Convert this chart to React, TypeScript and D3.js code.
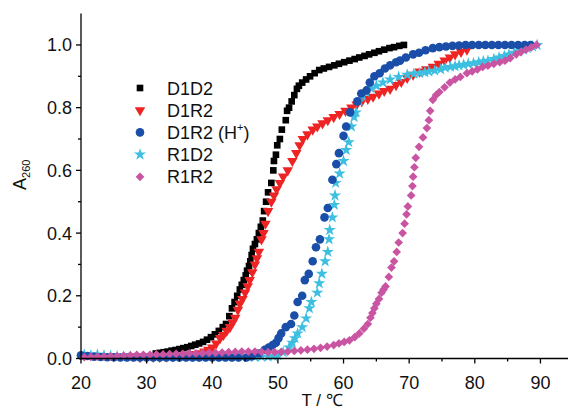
import React from "react";
import * as d3 from "d3";

const xTicks = [20, 30, 40, 50, 60, 70, 80, 90];
const yTicks = [0, 0.2, 0.4, 0.6, 0.8, 1.0];

const d1d2: [number, number][] = [
  [31.4,0.016],[32,0.018],[32.6,0.02],[33.2,0.022],[33.8,0.025],[34.4,0.027],[35,0.03],[35.6,0.033],[36.2,0.036],[36.8,0.04],
  [37.4,0.044],[38,0.048],[38.6,0.053],[39.2,0.06],[39.8,0.068],[40.4,0.077],[41,0.088],[41.6,0.1],[42.1,0.11],[42.6,0.135],
  [43,0.16],[43.4,0.18],[43.8,0.2],[44.2,0.22],[44.5,0.235],[44.8,0.25],[45.1,0.265],[45.3,0.28],[45.6,0.295],[45.8,0.31],
  [46,0.33],[46.2,0.35],[46.5,0.365],[46.8,0.38],[47.1,0.4],[47.4,0.42],[47.7,0.44],[47.9,0.47],[48.2,0.5],[48.5,0.53],
  [49,0.56],[49.3,0.6],[49.4,0.63],[49.7,0.65],[49.9,0.68],[50.3,0.7],[50.6,0.73],[51.2,0.76],[51.4,0.79],[51.7,0.8],
  [52.1,0.82],[52.5,0.84],[52.9,0.86],[53.2,0.87],[53.7,0.88],[54.3,0.89],[54.9,0.9],[55.6,0.91],[56.3,0.92],[57,0.925],
  [57.8,0.93],[58.6,0.935],[59.3,0.94],[60.1,0.945],[60.9,0.95],[61.7,0.955],[62.4,0.96],[63.2,0.965],[63.9,0.97],[64.7,0.975],
  [65.4,0.98],[66.2,0.985],[67,0.99],[67.7,0.993],[68.5,0.997],[69.2,1.0]
];

const d1r2: [number, number][] = [
  [29,0.004],[30,0.004],[31,0.005],[32,0.005],[33,0.006],[34,0.007],[35,0.008],[36,0.01],[36.8,0.012],[37.5,0.014],
  [38.1,0.017],[38.8,0.022],[39.4,0.028],[40,0.035],[40.6,0.048],[41.2,0.065],[41.7,0.075],[42.2,0.088],[42.7,0.1],[43.1,0.115],
  [43.5,0.13],[43.9,0.155],[44.2,0.175],[44.6,0.19],[45,0.21],[45.4,0.23],[45.7,0.25],[46.1,0.275],[46.5,0.3],[46.8,0.32],
  [47.1,0.34],[47.5,0.38],[47.8,0.4],[48.1,0.43],[48.5,0.47],[49,0.5],[49.4,0.52],[49.8,0.54],[50.3,0.56],[50.8,0.58],
  [51.5,0.6],[52.2,0.63],[52.8,0.655],[53.3,0.68],[53.8,0.7],[54.5,0.715],[55.3,0.73],[56,0.74],[56.8,0.75],[57.6,0.76],
  [58.5,0.77],[59.4,0.78],[60.3,0.79],[61.2,0.8],[62,0.81],[62.8,0.82],[63.7,0.828],[64.5,0.835],[65.4,0.845],[66.2,0.853],
  [67.1,0.86],[68,0.872],[68.8,0.882],[69.7,0.895],[70.6,0.905],[71.6,0.915],[72.6,0.922],[73.6,0.93],[74.5,0.94],[75.4,0.95],
  [76.2,0.96],[77,0.97],[77.9,0.978],[78.8,0.985]
];

const d1r2H: [number, number][] = [
  [20,0.01],[21,0.008],[22,0.006],[23,0.005],[24,0.004],[25,0.004],[26,0.003],[27,0.003],[28,0.003],[29,0.003],
  [30,0.003],[31,0.003],[32,0.003],[33,0.003],[34,0.003],[35,0.003],[36,0.003],[37,0.003],[38,0.003],[39,0.003],
  [40,0.003],[41,0.003],[42,0.003],[43,0.003],[44,0.003],[45.2,0.003],[46,0.007],[47.1,0.016],[48,0.028],[48.6,0.035],
  [49.2,0.043],[49.7,0.05],[50.1,0.065],[50.5,0.08],[51.2,0.1],[52,0.11],[52.5,0.137],[53,0.18],[53.7,0.2],[54.1,0.25],
  [54.7,0.27],[55.3,0.31],[55.8,0.355],[56.4,0.38],[57.1,0.45],[57.6,0.48],[58.3,0.57],[58.9,0.62],[59.3,0.655],[60,0.71],
  [60.4,0.74],[61,0.785],[62.1,0.82],[62.7,0.845],[63.5,0.855],[64,0.88],[64.7,0.9],[65.5,0.91],[66.3,0.925],[67.1,0.935],
  [68,0.945],[68.6,0.95],[69.5,0.96],[70.6,0.97],[71.5,0.975],[72.5,0.983],[73.6,0.99],[74.6,0.993],[75.6,0.995],[76.6,0.997],
  [77.6,0.998],[78.6,1.0],[79.6,1.0],[80.6,1.0],[81.6,1.0],[82.6,1.0],[83.6,1.0],[84.6,1.0],[85.6,1.0],[86.6,1.0],
  [87.6,1.0],[88.5,1.0]
];

const r1d2: [number, number][] = [
  [20.5,0.012],[21.5,0.01],[22.5,0.012],[23.5,0.01],[24.5,0.008],[25.5,0.007],[26.5,0.006],[27.5,0.006],[28.5,0.005],[29.5,0.005],
  [30.5,0.005],[31.5,0.005],[32.5,0.005],[33.5,0.005],[34.5,0.005],[35.5,0.005],[36.5,0.005],[37.5,0.005],[38.5,0.005],[39.5,0.005],
  [40.5,0.005],[41.5,0.005],[42.5,0.005],[43.5,0.005],[44.5,0.005],[45.5,0.005],[46.5,0.005],[47.5,0.006],[48.5,0.006],[49.3,0.008],
  [50,0.01],[50.8,0.02],[51.7,0.035],[52.2,0.05],[52.6,0.065],[53,0.08],[53.7,0.1],[54.3,0.128],[54.8,0.16],[55.1,0.18],
  [56,0.21],[56.3,0.24],[56.7,0.27],[57.2,0.31],[57.6,0.34],[57.8,0.38],[57.9,0.41],[58.3,0.45],[58.6,0.49],[58.7,0.52],
  [58.8,0.56],[59.4,0.59],[60,0.63],[60.4,0.665],[60.8,0.69],[61.2,0.74],[61.6,0.77],[61.9,0.785],[62.4,0.82],[62.9,0.838],
  [63.4,0.85],[64.2,0.862],[65,0.87],[66,0.88],[67.1,0.89],[68.4,0.898],[69.7,0.905],[70.7,0.908],[71.6,0.91],[72.4,0.913],
  [73,0.915],[73.9,0.918],[74.8,0.922],[75.5,0.928],[76.3,0.93],[77,0.932],[77.6,0.935],[78.3,0.937],[79,0.94],[79.8,0.942],
  [80.6,0.945],[81.3,0.948],[82,0.95],[82.9,0.955],[83.7,0.96],[84.5,0.965],[85.2,0.97],[86,0.975],[86.7,0.98],[87.4,0.985],
  [88,0.99],[88.8,0.995],[89.5,1.0]
];

const r1r2: [number, number][] = [
  [20.5,0.004],[21.5,0.005],[22.5,0.006],[23.5,0.006],[24.5,0.007],[25.5,0.008],[26.5,0.009],[27.5,0.01],[28.5,0.012],[29.5,0.012],
  [30.5,0.012],[31.5,0.013],[32.5,0.013],[33.5,0.014],[34.5,0.015],[35.5,0.015],[36.5,0.016],[37.5,0.016],[38.5,0.017],[39.5,0.018],
  [40.5,0.018],[41.5,0.019],[42.5,0.02],[43.5,0.021],[44.5,0.022],[45.5,0.022],[46.5,0.022],[47.5,0.021],[48.5,0.02],[49.5,0.02],
  [50.5,0.021],[51.5,0.022],[52.5,0.024],[53.5,0.026],[54.5,0.028],[55.5,0.031],[56.5,0.034],[57.5,0.038],[58.5,0.043],[59.3,0.048],
  [60.1,0.053],[60.9,0.058],[61.7,0.068],[62.4,0.08],[63.1,0.095],[63.7,0.11],[64.1,0.13],[64.4,0.145],[64.7,0.16],[65,0.175],
  [65.4,0.19],[65.8,0.21],[66.1,0.22],[66.4,0.23],[66.9,0.26],[67.3,0.29],[67.7,0.31],[68.1,0.34],[68.4,0.37],[69,0.4],
  [69.3,0.43],[69.6,0.46],[69.8,0.485],[70.3,0.52],[70.5,0.55],[70.6,0.58],[70.8,0.61],[71,0.64],[71.5,0.675],[72.1,0.705],
  [72.7,0.735],[73,0.76],[73.2,0.79],[73.6,0.825],[74.1,0.84],[74.6,0.85],[75.4,0.865],[76.2,0.88],[77,0.89],[77.8,0.898],
  [78.8,0.91],[79.6,0.916],[80.4,0.922],[81.2,0.93],[82,0.934],[82.9,0.94],[83.8,0.945],[84.6,0.95],[85.4,0.958],[86.3,0.97],
  [87,0.977],[87.8,0.985],[88.6,0.992],[89.4,1.0]
];

const W = 568;
const H = 409;
const FONT = "'Liberation Sans', Arial, sans-serif";

const x = d3.scaleLinear().domain([20, 94.2]).range([81, 568]);
const y = d3.scaleLinear().domain([0, 1.1]).range([358.5, 13.6]);

type Series = {
  name: string;
  data: [number, number][];
  color: string;
  type: d3.SymbolType;
  size: number;
  rotate: number;
};

const series: Series[] = [
  { name: "D1D2", data: d1d2, color: "#000000", type: d3.symbolSquare, size: 44, rotate: 0 },
  { name: "D1R2", data: d1r2, color: "#ee2424", type: d3.symbolTriangle, size: 48, rotate: 180 },
  { name: "R1D2", data: r1d2, color: "#3cbfe0", type: d3.symbolStar, size: 46, rotate: 0 },
  { name: "D1R2 (H+)", data: d1r2H, color: "#1a4ea8", type: d3.symbolCircle, size: 58, rotate: 0 },
  { name: "R1R2", data: r1r2, color: "#c955a2", type: d3.symbolSquare, size: 38, rotate: 45 },
];

const legendOrder = ["D1D2", "D1R2", "D1R2 (H+)", "R1D2", "R1R2"];

export default function App() {
  const minorX = d3.range(25, 94, 10);
  const minorY = d3.range(0.1, 1.1, 0.2);
  return (
    <svg width={W} height={H} style={{ position: "absolute", left: 0, top: 0, background: "#fff" }} fontFamily={FONT}>
      <rect width={W} height={H} fill="#fff" />
      {series.map((s) => {
        const path = d3.symbol().type(s.type).size(s.size)() as string;
        return (
          <g key={s.name} fill={s.color}>
            {s.data.map((d, i) => (
              <path key={i} d={path} transform={`translate(${x(d[0])},${y(d[1])}) rotate(${s.rotate})`} />
            ))}
          </g>
        );
      })}
      <g stroke="#000" strokeWidth={1.3}>
        <line x1={x(20)} x2={x(20)} y1={y(1.1)} y2={y(0)} />
        <line x1={x(20)} x2={568} y1={y(0)} y2={y(0)} />
        {yTicks.map((t) => (
          <line key={"yt" + t} x1={x(20) - 5} x2={x(20)} y1={y(t)} y2={y(t)} />
        ))}
        {minorY.map((t) => (
          <line key={"ym" + t} x1={x(20) - 3} x2={x(20)} y1={y(t)} y2={y(t)} />
        ))}
        {xTicks.map((t) => (
          <line key={"xt" + t} x1={x(t)} x2={x(t)} y1={y(0)} y2={y(0) + 5} />
        ))}
        {minorX.map((t) => (
          <line key={"xm" + t} x1={x(t)} x2={x(t)} y1={y(0)} y2={y(0) + 3} />
        ))}
      </g>
      <g fontSize={18} fill="#111">
        {yTicks.map((t) => (
          <text key={"yl" + t} x={x(20) - 9} y={y(t) + 6.5} textAnchor="end">
            {d3.format(".1f")(t)}
          </text>
        ))}
        {xTicks.map((t) => (
          <text key={"xl" + t} x={x(t)} y={389} textAnchor="middle">
            {t}
          </text>
        ))}
      </g>
      <text transform="translate(26,190) rotate(-90)" fontSize={18} fill="#111">
        A<tspan fontSize={11} dy={4}>260</tspan>
      </text>
      <text x={322} y={406} fontSize={17} textAnchor="middle" fill="#111">
        T / ℃
      </text>
      {legendOrder.map((name, i) => {
        const s = series.find((q) => q.name === name)!;
        const cy = 88 + i * 22.2;
        const path = d3.symbol().type(s.type).size(s.size)() as string;
        return (
          <g key={"lg" + name}>
            <path d={path} fill={s.color} transform={`translate(140,${cy}) rotate(${s.rotate})`} />
            <text x={167} y={cy + 6.5} fontSize={18} fill="#111">
              {name === "D1R2 (H+)" ? (
                <>
                  D1R2 (H<tspan fontSize={11} dy={-8}>+</tspan>
                  <tspan dy={8}>)</tspan>
                </>
              ) : (
                name
              )}
            </text>
          </g>
        );
      })}
    </svg>
  );
}
